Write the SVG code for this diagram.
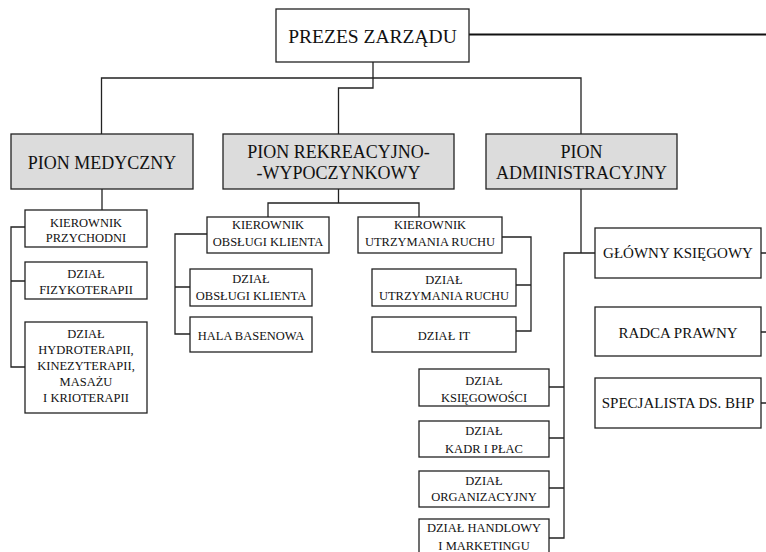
<svg xmlns="http://www.w3.org/2000/svg" width="766" height="552" viewBox="0 0 766 552">
  <style>
    .box { fill: #ffffff; stroke: #222222; stroke-width: 1.3; }
    .pion { fill: #dcdcdc; stroke: #222222; stroke-width: 1.3; }
    .lbl { font-family: "Liberation Serif", "Times New Roman", serif; fill: #111111; text-anchor: middle; }
    .sm { font-size: 12.5px; }
    .md { font-size: 15px; }
    .lg { font-size: 18px; }
    .xl { font-size: 19.5px; }
    .conn { fill: none; stroke: #222222; stroke-width: 1.3; }
    .main { fill: none; stroke: #111111; stroke-width: 2; }
  </style>
  <rect x="0" y="0" width="766" height="552" fill="#ffffff"/>

  <!-- connectors -->
  <g id="connectors">
    <path class="main" d="M469,34.5 H766"/>
    <path class="conn" d="M373,62 V88 H338.5 V134"/>
    <path class="conn" d="M101.5,134 V78 H581 V134"/>
    <!-- medical division -->
    <path class="conn" d="M102,189 V210"/>
    <path class="conn" d="M25,227 H11 V367 H25 M11,281 H25"/>
    <!-- recreation division -->
    <path class="conn" d="M338.5,189 V203 M268,217 V203 H419 V217"/>
    <path class="conn" d="M207,234 H175 V334 H190 M175,287 H190"/>
    <path class="conn" d="M502,237 H531 V331 H516 M531,285 H516"/>
    <!-- administration division -->
    <path class="conn" d="M581,189 V253 M595,253 H564 V538 H549 M564,387 H549 M564,438 H549 M564,488 H549"/>
    <path class="conn" d="M761,253 H766 M761,332 H766 M761,403 H766"/>
  </g>

  <g id="prezes">
    <rect class="box" x="276" y="9" width="193" height="53"/>
    <text class="lbl xl" x="372.5" y="42.5">PREZES ZARZĄDU</text>
  </g>

  <g id="pion-medyczny">
    <rect class="pion" x="11" y="134" width="182" height="55"/>
    <text class="lbl lg" x="102" y="169">PION MEDYCZNY</text>
  </g>
  <g id="pion-rekreacyjny">
    <rect class="pion" x="223" y="134" width="231" height="55"/>
    <text class="lbl lg" x="338.5" y="158">PION REKREACYJNO-</text>
    <text class="lbl lg" x="338.5" y="179">-WYPOCZYNKOWY</text>
  </g>
  <g id="pion-administracyjny">
    <rect class="pion" x="486" y="134" width="191" height="55"/>
    <text class="lbl lg" x="581.5" y="158">PION</text>
    <text class="lbl lg" x="581.5" y="179">ADMINISTRACYJNY</text>
  </g>

  <g id="kierownik-przychodni">
    <rect class="box" x="25" y="210" width="122" height="37"/>
    <text class="lbl sm" x="86" y="226.5">KIEROWNIK</text>
    <text class="lbl sm" x="86" y="242">PRZYCHODNI</text>
  </g>
  <g id="dzial-fizykoterapii">
    <rect class="box" x="25" y="262" width="122" height="37"/>
    <text class="lbl sm" x="86" y="277.5">DZIAŁ</text>
    <text class="lbl sm" x="86" y="293.5">FIZYKOTERAPII</text>
  </g>
  <g id="dzial-hydroterapii">
    <rect class="box" x="25" y="322" width="122" height="91"/>
    <text class="lbl sm" x="86" y="337.5">DZIAŁ</text>
    <text class="lbl sm" x="86" y="353.5">HYDROTERAPII,</text>
    <text class="lbl sm" x="86" y="369.5">KINEZYTERAPII,</text>
    <text class="lbl sm" x="86" y="385.5">MASAŻU</text>
    <text class="lbl sm" x="86" y="401.5">I KRIOTERAPII</text>
  </g>

  <g id="kierownik-obslugi-klienta">
    <rect class="box" x="207" y="217" width="122" height="36"/>
    <text class="lbl sm" x="268" y="229">KIEROWNIK</text>
    <text class="lbl sm" x="268" y="245.5">OBSŁUGI KLIENTA</text>
  </g>
  <g id="kierownik-utrzymania-ruchu">
    <rect class="box" x="358" y="217" width="144" height="36"/>
    <text class="lbl sm" x="430" y="229">KIEROWNIK</text>
    <text class="lbl sm" x="430" y="245.5">UTRZYMANIA RUCHU</text>
  </g>
  <g id="dzial-obslugi-klienta">
    <rect class="box" x="190" y="269" width="122" height="37"/>
    <text class="lbl sm" x="251" y="282.5">DZIAŁ</text>
    <text class="lbl sm" x="251" y="300">OBSŁUGI KLIENTA</text>
  </g>
  <g id="hala-basenowa">
    <rect class="box" x="190" y="317" width="122" height="35"/>
    <text class="lbl sm" x="251" y="339.5">HALA BASENOWA</text>
  </g>
  <g id="dzial-utrzymania-ruchu">
    <rect class="box" x="372" y="269" width="144" height="37"/>
    <text class="lbl sm" x="444" y="283.5">DZIAŁ</text>
    <text class="lbl sm" x="444" y="300">UTRZYMANIA RUCHU</text>
  </g>
  <g id="dzial-it">
    <rect class="box" x="372" y="317" width="144" height="35"/>
    <text class="lbl sm" x="444" y="339.5">DZIAŁ IT</text>
  </g>

  <g id="glowny-ksiegowy">
    <rect class="box" x="595" y="228" width="166" height="50"/>
    <text class="lbl md" x="678" y="258">GŁÓWNY KSIĘGOWY</text>
  </g>
  <g id="radca-prawny">
    <rect class="box" x="595" y="307" width="166" height="49"/>
    <text class="lbl md" x="678" y="338">RADCA PRAWNY</text>
  </g>
  <g id="specjalista-bhp">
    <rect class="box" x="595" y="378" width="166" height="50"/>
    <text class="lbl md" x="678" y="407.5">SPECJALISTA DS. BHP</text>
  </g>

  <g id="dzial-ksiegowosci">
    <rect class="box" x="419" y="369" width="130" height="37"/>
    <text class="lbl sm" x="484" y="384.5">DZIAŁ</text>
    <text class="lbl sm" x="484" y="401.5">KSIĘGOWOŚCI</text>
  </g>
  <g id="dzial-kadr">
    <rect class="box" x="419" y="421" width="130" height="36"/>
    <text class="lbl sm" x="484" y="435">DZIAŁ</text>
    <text class="lbl sm" x="484" y="452.5">KADR I PŁAC</text>
  </g>
  <g id="dzial-organizacyjny">
    <rect class="box" x="419" y="471" width="130" height="36"/>
    <text class="lbl sm" x="484" y="484.5">DZIAŁ</text>
    <text class="lbl sm" x="484" y="500.5">ORGANIZACYJNY</text>
  </g>
  <g id="dzial-handlowy">
    <rect class="box" x="419" y="519" width="130" height="40"/>
    <text class="lbl sm" x="484" y="531.5">DZIAŁ HANDLOWY</text>
    <text class="lbl sm" x="484" y="549.5">I MARKETINGU</text>
  </g>
</svg>
